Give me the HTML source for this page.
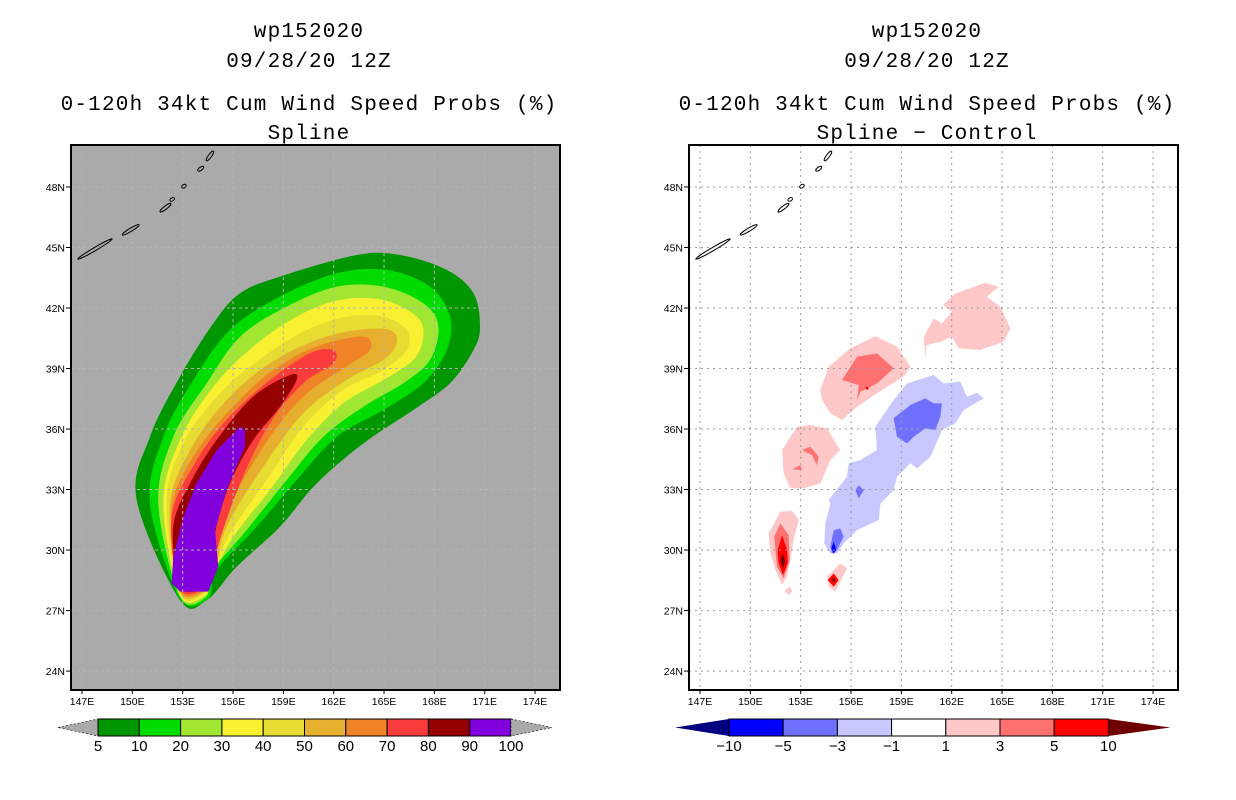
<!DOCTYPE html>
<html><head><meta charset="utf-8"><style>
html,body{margin:0;padding:0;background:#fff;width:1236px;height:800px;overflow:hidden}
svg{display:block}
.t{font-family:"Liberation Mono","DejaVu Sans Mono",monospace;font-size:21px;letter-spacing:1.2px;fill:#000}
.ax{font-family:"Liberation Sans",sans-serif;font-size:10.5px;fill:#000}
.cb{font-family:"Liberation Sans",sans-serif;font-size:15px;fill:#000}
</style></head><body>
<svg id="chart" width="1236" height="800" viewBox="0 0 1236 800" xmlns="http://www.w3.org/2000/svg">
<g id="titles"></g>
<g id="left-panel"></g>
<g id="right-panel"></g>
<g id="cbars"></g>
</svg>
<script>
// ---- data ----
const lonTicks=[147,150,153,156,159,162,165,168,171,174];
const latTicks=[24,27,30,33,36,39,42,45,48];
const probLevels=[5,10,20,30,40,50,60,70,80,90,100];
const probColors=["#009600","#00dc00","#a0e632","#faf032","#e6dc32","#e6af2d","#f08228","#fa3c3c","#960000","#8200dc"];
const diffLevels=["\u221210","\u22125","\u22123","\u22121","1","3","5","10"];
const diffColors=["#0000ff","#7070ff","#c8c8ff","#ffffff","#ffc8c8","#ff7070","#ff0000"];
const prob5=[[152.84,27.52],[150.26,32.48],[151.05,35.62],[152.84,38.6],[154.83,41.24],[156.42,42.73],[158.8,43.56],[163.37,44.63],[165.95,44.63],[168.74,43.89],[170.33,42.73],[170.72,41.08],[170.33,39.92],[168.93,38.27],[166.75,36.95],[163.77,35.29],[160.99,33.31],[158.8,31.16],[156.22,29.18],[154.43,27.52]];
const prob10=[[152.84,27.61],[151.05,32.32],[151.85,35.62],[153.63,38.43],[155.82,40.91],[158.8,42.57],[162.18,43.72],[165.16,43.89],[167.74,43.06],[168.93,41.57],[168.74,39.92],[167.34,38.27],[164.96,36.95],[162.18,35.62],[159.79,33.47],[157.41,31.16],[155.03,29.01],[154.53,27.61]];
const prob20=[[152.84,27.69],[151.55,32.32],[152.44,35.62],[154.43,38.27],[156.42,40.58],[159.2,42.07],[162.18,43.06],[164.96,43.06],[167.34,42.24],[168.24,41.08],[167.74,39.43],[166.15,38.27],[163.77,37.11],[161.38,35.62],[159.2,33.47],[156.81,30.99],[154.83,29.01],[154.4,27.69]];
const prob30=[[152.84,27.77],[151.85,32.32],[152.84,35.46],[154.83,38.1],[157.21,40.09],[159.79,41.57],[162.37,42.4],[164.96,42.4],[166.95,41.57],[167.34,40.58],[166.75,39.43],[164.96,38.43],[162.57,37.28],[160.39,35.46],[158.2,32.98],[156.02,30.66],[154.83,28.85],[154.35,27.77]];
const prob40=[[152.84,27.85],[152.04,32.32],[153.04,35.29],[155.22,37.77],[157.81,39.59],[160.39,40.91],[162.77,41.57],[164.96,41.57],[166.35,40.91],[166.35,39.92],[164.96,38.93],[162.57,37.94],[160.19,36.12],[158.0,33.47],[155.82,30.83],[154.93,29.01],[154.3,27.85]];
const prob50=[[152.84,27.94],[152.24,32.15],[153.44,34.96],[155.62,37.44],[158.2,39.26],[160.99,40.42],[163.37,40.91],[165.36,40.91],[165.75,40.25],[164.96,39.43],[162.77,38.43],[160.19,36.78],[157.81,34.14],[155.62,31.16],[154.93,29.01],[154.3,27.94]];
const prob60=[[152.84,28.02],[152.34,31.99],[153.63,34.63],[155.82,36.95],[158.4,38.93],[160.99,40.09],[163.77,40.58],[164.16,39.92],[162.77,39.1],[160.19,37.61],[157.81,35.13],[155.62,31.82],[154.83,29.01],[154.3,28.02]];
const prob70=[[152.84,28.1],[152.34,31.66],[153.73,34.3],[155.62,36.45],[158.2,38.43],[160.59,39.76],[161.98,39.92],[161.98,39.26],[160.19,38.27],[158.2,36.29],[156.42,33.31],[155.03,30.0],[154.83,28.85],[154.3,28.1]];
const prob80=[[152.84,28.18],[152.44,31.16],[153.44,33.31],[155.03,35.46],[157.21,37.61],[159.4,38.68],[159.79,38.43],[158.8,37.11],[157.21,35.46],[155.82,33.31],[154.93,30.83],[154.93,29.01],[154.3,28.18]];
const prob90=[[152.44,29.67],[152.34,28.35],[152.84,27.94],[154.53,27.94],[155.12,29.18],[154.93,30.99],[155.62,32.98],[156.71,35.13],[156.71,35.95],[156.42,36.12],[155.03,34.96],[153.83,33.31],[153.04,31.66]];
// difference field blobs [lon,lat]
const diffPos1A=[[160.33,40.58],[160.93,41.48],[161.42,41.24],[162.02,41.82],[161.48,42.15],[162.22,42.72],[164.0,43.25],[164.8,43.06],[164.1,42.56],[164.9,42.06],[165.5,40.99],[165.1,40.33],[163.71,39.92],[162.42,40.0],[162.02,40.58],[161.32,40.33],[160.49,40.16],[160.43,39.5]];
const diffPos1B=[[154.17,37.93],[154.67,39.09],[155.96,40.0],[157.45,40.61],[158.74,40.08],[159.54,39.09],[159.14,38.6],[157.55,37.77],[156.36,37.11],[155.46,36.45],[154.77,36.78],[154.27,37.44]];
const diffPos3B=[[155.46,38.43],[156.36,39.59],[157.55,39.75],[158.54,39.01],[157.55,38.26],[156.56,37.85],[156.36,37.44],[156.46,38.18]];
const diffPos5B=[[156.85,38.05],[156.95,38.12],[157.07,38.02],[156.95,37.93]];
const diffPos1C=[[151.89,34.96],[152.78,36.12],[153.58,36.2],[154.57,36.03],[155.36,34.96],[154.77,34.46],[154.17,33.3],[153.18,33.06],[152.38,33.06],[151.99,33.8]];
const diffPos3C=[[153.08,34.96],[153.58,35.12],[154.07,34.63],[153.97,34.21],[153.68,34.71]];
const diffPos3C2=[[152.48,34.0],[152.98,34.21],[153.08,33.97]];
const diffPos1D=[[151.09,30.82],[151.79,31.9],[152.48,31.95],[152.88,31.49],[152.58,30.5],[152.38,29.5],[152.19,28.68],[151.89,28.27],[151.49,29.01],[151.19,29.84]];
const diffPos3D=[[151.43,30.66],[151.79,31.32],[152.28,30.74],[152.34,29.5],[151.99,28.6],[151.59,29.17]];
const diffPos5D=[[151.63,30.0],[151.89,30.74],[152.19,30.0],[152.23,29.34],[151.95,28.76],[151.69,29.34]];
const diffPos10D=[[151.79,29.5],[151.93,29.83],[152.07,29.42],[151.93,29.09]];
const diffPos1E=[[152.05,28.0],[152.35,28.2],[152.5,27.95],[152.25,27.75]];
const diffPos1F=[[154.57,28.68],[155.36,29.34],[155.76,29.09],[155.36,28.43],[155.07,27.93],[154.67,28.18]];
const diffPos5F=[[154.61,28.51],[154.97,28.84],[155.26,28.51],[154.97,28.18]];
const diffPos10F=[[154.87,28.51],[154.97,28.62],[155.07,28.51],[154.97,28.4]];
const diffNeg1=[[154.47,31.32],[154.77,32.31],[154.67,32.48],[155.76,33.63],[155.86,34.3],[156.56,34.46],[157.55,34.96],[157.45,36.12],[158.54,37.44],[159.34,38.26],[160.93,38.68],[161.52,38.26],[162.51,38.35],[162.91,37.6],[163.51,37.8],[163.91,37.52],[162.71,36.94],[162.22,36.28],[161.42,35.95],[160.73,34.63],[159.93,34.05],[159.54,34.3],[158.74,33.63],[158.54,32.97],[157.75,32.31],[157.65,31.49],[156.36,30.99],[155.56,30.33],[155.16,29.83],[154.77,29.83],[154.41,30.33]];
const diffNeg3A=[[158.54,36.53],[159.54,37.19],[160.43,37.52],[160.93,37.27],[161.42,37.27],[161.32,36.61],[161.03,35.95],[160.43,36.03],[159.73,35.62],[159.34,35.29],[158.74,35.62]];
const diffNeg3B=[[156.26,32.97],[156.46,33.22],[156.75,32.97],[156.46,32.56]];
const diffNeg3C=[[154.77,30.17],[154.97,30.99],[155.36,31.07],[155.56,30.66],[155.16,30.0],[154.87,29.83]];
const diffNeg5C=[[154.83,30.08],[154.97,30.41],[155.13,30.0],[154.97,29.83]];
// islands (Kuril chain) segments [lon1,lat1,lon2,lat2]
const islands=[[146.8,44.45,148.75,45.4],[149.45,45.65,150.35,46.1],[151.7,46.8,152.25,47.15],[152.3,47.35,152.45,47.42],[153.0,48.0,153.15,48.08],[153.95,48.83,154.2,48.98],[154.45,49.34,154.8,49.74]];

// ---- helpers ----
const NS="http://www.w3.org/2000/svg";
function mk(tag,attrs,parent){const e=document.createElementNS(NS,tag);for(const k in attrs)e.setAttribute(k,attrs[k]);parent.appendChild(e);return e;}
const PY0=145,PY1=690;
const xs=(x0,lon)=>x0+11+(lon-147)*16.78;
const ys=lat=>187+(48-lat)*20.17;
function smoothPath(pts,x0){
  const P=pts.map(p=>[xs(x0,p[0]),ys(p[1])]);const n=P.length;let d=`M${P[0][0].toFixed(1)},${P[0][1].toFixed(1)}`;
  for(let i=0;i<n;i++){const p0=P[(i-1+n)%n],p1=P[i],p2=P[(i+1)%n],p3=P[(i+2)%n];
    const c1=[p1[0]+(p2[0]-p0[0])/6,p1[1]+(p2[1]-p0[1])/6],c2=[p2[0]-(p3[0]-p1[0])/6,p2[1]-(p3[1]-p1[1])/6];
    d+=`C${c1[0].toFixed(1)},${c1[1].toFixed(1)} ${c2[0].toFixed(1)},${c2[1].toFixed(1)} ${p2[0].toFixed(1)},${p2[1].toFixed(1)}`;}
  return d+"Z";
}
function polyPath(pts,x0){return "M"+pts.map(p=>xs(x0,p[0]).toFixed(1)+","+ys(p[1]).toFixed(1)).join("L")+"Z";}

// ---- titles ----
const T=document.getElementById("titles");
function title(x,y,s,name){const e=mk("text",{x:x,y:y,class:"t","text-anchor":"middle"},T);e.textContent=s;

}
title(309,37,"wp152020","left-storm-id");title(309,67,"09/28/20 12Z","left-date");
title(309,110,"0-120h 34kt Cum Wind Speed Probs (%)","left-title");title(309,139,"Spline","left-subtitle");
title(927,37,"wp152020","right-storm-id");title(927,67,"09/28/20 12Z","right-date");
title(927,110,"0-120h 34kt Cum Wind Speed Probs (%)","right-title");title(927,139,"Spline \u2212 Control","right-subtitle");

// ---- panels ----
function panel(g,x0,bg,gridStyle,fields){
  const clipId="clip"+x0;const cp=mk("clipPath",{id:clipId},g);mk("rect",{x:x0,y:PY0,width:489,height:PY1-PY0},cp);
  const bgr=mk("rect",{x:x0,y:PY0,width:489,height:PY1-PY0,fill:bg},g);
  
  
  const inner=mk("g",{"clip-path":`url(#${clipId})`},g);
  fields.forEach(f=>{const p=mk("path",{d:f.smooth?smoothPath(f.pts,x0):polyPath(f.pts,x0),fill:f.color},inner);
    
    });
  lonTicks.forEach(l=>{const ln=mk("line",{x1:xs(x0,l),x2:xs(x0,l),y1:PY0,y2:PY1,stroke:gridStyle.c,"stroke-width":1,"stroke-dasharray":gridStyle.d},inner);
    
    });
  latTicks.forEach(l=>{const ln=mk("line",{x1:x0,x2:x0+489,y1:ys(l),y2:ys(l),stroke:gridStyle.c,"stroke-width":1,"stroke-dasharray":gridStyle.d},inner);
    
    });
  islands.forEach(s=>{const a=[xs(x0,s[0]),ys(s[1])],b=[xs(x0,s[2]),ys(s[3])];
    const cx=(a[0]+b[0])/2,cy=(a[1]+b[1])/2,len=Math.hypot(b[0]-a[0],b[1]-a[1])/2+1,ang=Math.atan2(b[1]-a[1],b[0]-a[0])*180/Math.PI;
    const e=mk("ellipse",{cx:cx,cy:cy,rx:len,ry:1.6,fill:bg,stroke:"#000","stroke-width":1,transform:`rotate(${ang} ${cx} ${cy})`},inner);
    
    });
  const fr=mk("rect",{x:x0,y:PY0,width:489,height:PY1-PY0,fill:"none",stroke:"#000","stroke-width":2},g);
  
  
  latTicks.forEach(l=>{mk("line",{x1:x0-5,x2:x0,y1:ys(l),y2:ys(l),stroke:"#000","stroke-width":1},g);
    const t=mk("text",{x:x0-6,y:ys(l)+4,class:"ax","text-anchor":"end"},g);t.textContent=l+"N";
    
    });
  lonTicks.forEach(l=>{mk("line",{x1:xs(x0,l),x2:xs(x0,l),y1:PY1,y2:PY1+4,stroke:"#000","stroke-width":1},g);
    const t=mk("text",{x:xs(x0,l),y:PY1+15,class:"ax","text-anchor":"middle"},g);t.textContent=l+"E";
    
    });
}
const probFields=[prob5,prob10,prob20,prob30,prob40,prob50,prob60,prob70,prob80].map((p,i)=>({pts:p,color:probColors[i],smooth:true,name:"prob-contour-"+probLevels[i]}));
probFields.push({pts:prob90,color:probColors[9],smooth:false,name:"prob-contour-90"});
panel(document.getElementById("left-panel"),71,"#aaaaaa",{c:"#b4b4b4",d:"3,3"},probFields);
const C=diffColors;
const diffFields=[
 {pts:diffPos1A,color:C[4],name:"diff-pos-1-ne"},{pts:diffPos1B,color:C[4],name:"diff-pos-1-center"},{pts:diffPos3B,color:C[5],name:"diff-pos-3-center"},{pts:diffPos5B,color:C[6],name:"diff-pos-5-center"},
 {pts:diffPos1C,color:C[4],name:"diff-pos-1-west"},{pts:diffPos3C,color:C[5],name:"diff-pos-3-west"},{pts:diffPos3C2,color:C[5],name:"diff-pos-3-west-small"},
 {pts:diffPos1D,color:C[4],name:"diff-pos-1-south"},{pts:diffPos3D,color:C[5],name:"diff-pos-3-south"},{pts:diffPos5D,color:C[6],name:"diff-pos-5-south"},{pts:diffPos10D,color:"#700000",name:"diff-pos-10-south"},
 {pts:diffPos1E,color:C[4],name:"diff-pos-1-speck"},{pts:diffPos1F,color:C[4],name:"diff-pos-1-track"},{pts:diffPos5F,color:C[6],name:"diff-pos-5-track"},{pts:diffPos10F,color:"#700000",name:"diff-pos-10-track"},
 {pts:diffNeg1,color:C[2],name:"diff-neg-1"},{pts:diffNeg3A,color:C[1],name:"diff-neg-3-north"},{pts:diffNeg3B,color:C[1],name:"diff-neg-3-mid"},{pts:diffNeg3C,color:C[1],name:"diff-neg-3-south"},{pts:diffNeg5C,color:C[0],name:"diff-neg-5-south"}
].map(f=>Object.assign({smooth:false},f));
panel(document.getElementById("right-panel"),689,"#ffffff",{c:"#9a9a9a",d:"2,4"},diffFields);

// ---- colorbars ----
const CB=document.getElementById("cbars");
(function(){const x0=98,w=41.3,y=719,h=17;
  const tl=mk("polygon",{points:`58,${y+h/2} ${x0},${y} ${x0},${y+h}`,fill:"#aaaaaa",stroke:"#000","stroke-width":0.6,"stroke-dasharray":"2,2"},CB);
  
  
  probColors.forEach((c,i)=>{const r=mk("rect",{x:x0+i*w,y:y,width:w,height:h,fill:c,stroke:"#000","stroke-width":1},CB);
    
    });
  const xe=x0+probColors.length*w;
  const tr=mk("polygon",{points:`${xe},${y} ${xe+41},${y+h/2} ${xe},${y+h}`,fill:"#aaaaaa",stroke:"#000","stroke-width":0.6,"stroke-dasharray":"2,2"},CB);
  
  
  probLevels.forEach((l,i)=>{const t=mk("text",{x:x0+i*w,y:y+h+15,class:"cb","text-anchor":"middle"},CB);t.textContent=l;
    
    });
})();
(function(){const x0=729,w=54.2,y=719,h=17;
  const tl=mk("polygon",{points:`675,${y+h/2} ${x0},${y} ${x0},${y+h}`,fill:"#000080"},CB);
  
  
  diffColors.forEach((c,i)=>{const r=mk("rect",{x:x0+i*w,y:y,width:w,height:h,fill:c,stroke:"#000","stroke-width":1},CB);
    
    });
  const xe=x0+diffColors.length*w;
  const tr=mk("polygon",{points:`${xe},${y} ${xe+62},${y+h/2} ${xe},${y+h}`,fill:"#700000"},CB);
  
  
  diffLevels.forEach((l,i)=>{const t=mk("text",{x:x0+i*w,y:y+h+15,class:"cb","text-anchor":"middle"},CB);t.textContent=l;
    
    });
})();
</script>
</body></html>
